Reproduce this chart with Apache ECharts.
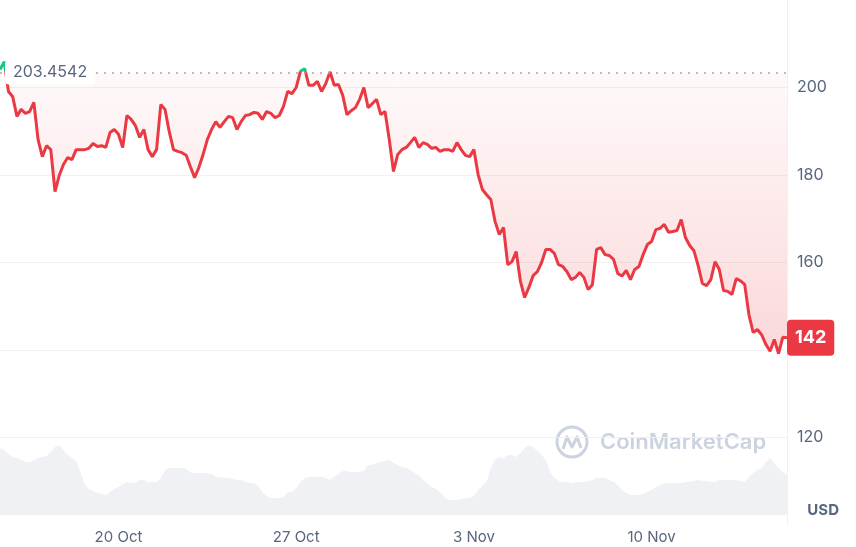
<!DOCTYPE html>
<html>
<head>
<meta charset="utf-8">
<title>Price chart</title>
<script src="https://cdn.jsdelivr.net/npm/echarts@6/dist/echarts.min.js"></script>
<style>
    html, body { margin: 0; padding: 0; background: #fff; }
    #chart { width: 856px; height: 547px; }
</style>
</head>
<body>
<div id="chart"></div>
<script>
    // 4-hourly samples, 15 Oct 08:00 -> 15 Nov 08:00
    const startTime = Date.UTC(2024, 9, 15, 8);
    const stepHours = 4;

    const priceValues = [
        204.1, 205.9, 199.1, 197.9, 193.4, 195.0, 194.1, 194.5, 196.6, 188.1,
        184.2, 186.7, 185.8, 176.2, 179.9, 182.4, 184.0, 183.5, 185.8, 185.8,
        185.8, 186.1, 187.2, 186.5, 186.7, 186.3, 189.7, 190.4, 189.3, 186.3,
        193.6, 192.7, 191.3, 188.6, 190.4, 185.8, 184.2, 185.8, 196.1, 195.0,
        189.9, 185.8, 185.4, 185.1, 184.5, 181.9, 179.4, 181.7, 184.7, 188.1,
        190.4, 192.2, 190.9, 192.2, 193.4, 193.1, 190.4, 192.2, 193.6, 193.8,
        194.3, 194.1, 192.7, 194.5, 194.1, 193.1, 193.6, 195.7, 199.1, 198.6,
        200.0, 203.7, 204.3, 200.5, 200.5, 201.4, 199.1, 200.9, 203.6, 200.5,
        200.7, 198.2, 193.8, 194.7, 195.4, 197.3, 200.0, 195.4, 196.3, 197.3,
        193.8, 194.5, 188.1, 180.8, 184.7, 185.8, 186.3, 187.4, 188.6, 186.3,
        187.4, 187.0, 186.1, 186.3, 185.4, 185.8, 185.8, 185.4, 187.4, 185.8,
        184.5, 184.2, 185.8, 180.1, 176.7, 175.5, 174.4, 169.4, 166.4, 168.0,
        159.5, 160.2, 162.5, 155.7, 152.0, 154.3, 157.0, 157.9, 160.0, 163.0,
        163.0, 162.1, 159.5, 159.1, 157.9, 156.1, 156.6, 157.7, 156.6, 153.8,
        154.9, 163.0, 163.4, 161.8, 161.6, 160.7, 157.5, 156.9, 158.2, 156.1,
        158.4, 159.1, 161.8, 164.1, 164.8, 167.5, 167.8, 168.7, 166.9, 167.1,
        167.3, 169.8, 165.7, 163.9, 162.7, 159.3, 155.2, 154.7, 156.1, 160.2,
        158.4, 153.6, 153.4, 152.7, 156.3, 155.8, 155.0, 148.1, 144.0, 144.7,
        143.5, 141.3, 139.7, 142.4, 139.2, 142.9, 142.8
    ];

    // volume, million USD
    const volumeValues = [
        670, 650, 610, 580, 570, 550, 530, 530, 550, 570,
        580, 590, 630, 680, 700, 650, 600, 570, 540, 430,
        310, 260, 240, 220, 210, 200, 230, 260, 280, 310,
        330, 320, 320, 350, 350, 330, 330, 330, 370, 450,
        470, 470, 470, 470, 460, 430, 420, 420, 420, 420,
        410, 380, 380, 370, 370, 360, 350, 350, 330, 320,
        320, 290, 230, 190, 170, 170, 170, 180, 230, 230,
        270, 330, 370, 380, 380, 380, 380, 370, 350, 380,
        410, 440, 440, 430, 430, 430, 440, 500, 500, 520,
        530, 540, 550, 520, 500, 480, 470, 450, 420, 400,
        350, 310, 280, 260, 230, 180, 150, 150, 150, 160,
        170, 170, 190, 250, 290, 330, 470, 550, 580, 570,
        600, 600, 580, 620, 670, 700, 680, 640, 600, 550,
        430, 370, 340, 330, 330, 320, 330, 330, 330, 340,
        350, 370, 370, 370, 350, 330, 300, 250, 220, 200,
        200, 200, 210, 230, 250, 280, 300, 320, 320, 320,
        320, 320, 330, 330, 340, 350, 340, 340, 330, 330,
        350, 350, 350, 350, 350, 340, 330, 380, 420, 450,
        470, 530, 570, 520, 470, 430, 400
    ];

    const baselinePrice = 203.4542;
    const xTickLabels = ['20 Oct', '27 Oct', '3 Nov', '10 Nov'];

    const months = ['Jan', 'Feb', 'Mar', 'Apr', 'May', 'Jun', 'Jul', 'Aug', 'Sep', 'Oct', 'Nov', 'Dec'];
    const categories = priceValues.map(function (v, i) {
        const d = new Date(startTime + i * stepHours * 3600 * 1000);
        const hh = String(d.getUTCHours()).padStart(2, '0');
        return d.getUTCDate() + ' ' + months[d.getUTCMonth()] + ' ' + hh + ':00';
    });
    const tickCategories = xTickLabels.map(function (t) { return t + ' 00:00'; });
    const lastPrice = priceValues[priceValues.length - 1];

    const red = '#ea3943';
    const green = '#16c784';
    const grey = '#58667e';

    let chart = echarts.init(document.getElementById('chart'));

    let option = {
        animation: false,
        textStyle: { fontFamily: 'Inter' },
        title: {
            text: 'USD',
            right: 12,
            top: 498,
            textStyle: { color: grey, fontSize: 15, fontWeight: 'bold', fontFamily: 'Inter' }
        },
        graphic: [{
            type: 'group',
            silent: true,
            children: [{
                type: 'circle',
                shape: { cx: 572, cy: 442, r: 15 },
                style: { fill: 'none', stroke: '#cbd3e1', lineWidth: 3 }
            }, {
                type: 'polyline',
                shape: { points: [[563, 449], [567, 437], [572, 447], [577, 437], [581, 448]] },
                style: { fill: 'none', stroke: '#cbd3e1', lineWidth: 3, lineJoin: 'round' }
            }, {
                type: 'text',
                style: {
                    x: 600, y: 442, text: 'CoinMarketCap', fill: '#cbd3e1',
                    font: '600 22px Inter', verticalAlign: 'middle'
                }
            }]
        }],
        visualMap: {
            show: false,
            type: 'piecewise',
            seriesIndex: 0,
            dimension: 1,
            pieces: [
                { gt: baselinePrice, lte: 220, color: green },
                { gte: 100, lte: baselinePrice, color: red }
            ]
        },
        grid: [
            { left: 0, right: 69, top: 0, bottom: 22 },
            { left: 0, right: 69, top: 440, bottom: 32 }
        ],
        xAxis: [{
            type: 'category',
            gridIndex: 0,
            data: categories,
            boundaryGap: false,
            show: false
        }, {
            type: 'category',
            gridIndex: 1,
            data: categories,
            boundaryGap: false,
            axisLine: { show: false },
            axisTick: { show: false },
            axisLabel: {
                interval: function (idx, val) { return tickCategories.indexOf(val) >= 0; },
                formatter: function (val) { return xTickLabels[tickCategories.indexOf(val)]; },
                color: grey,
                fontSize: 15,
                margin: 15
            }
        }],
        yAxis: [{
            type: 'value',
            gridIndex: 0,
            position: 'right',
            min: 100,
            max: 220,
            interval: 20,
            axisLine: { show: true, lineStyle: { color: '#eff2f5' } },
            axisTick: { show: false },
            axisLabel: {
                color: grey,
                fontSize: 16,
                margin: 10,
                showMinLabel: false,
                showMaxLabel: false
            },
            splitLine: {
                showMinLine: false,
                showMaxLine: false,
                lineStyle: { color: '#eff2f5' }
            }
        }, {
            type: 'value',
            gridIndex: 1,
            min: 0,
            max: 750,
            show: false,
            splitLine: { show: false }
        }],
        series: [{
            name: 'Price',
            type: 'line',
            xAxisIndex: 0,
            yAxisIndex: 0,
            data: priceValues,
            symbol: 'none',
            z: 3,
            lineStyle: { width: 3 },
            areaStyle: {
                origin: baselinePrice,
                color: new echarts.graphic.LinearGradient(0, 0, 0, 1, [
                    { offset: 0, color: 'rgba(234,57,67,0.03)' },
                    { offset: 1, color: 'rgba(234,57,67,0.28)' }
                ])
            },
            markLine: {
                silent: true,
                symbol: ['none', 'none'],
                data: [{
                    yAxis: baselinePrice,
                    lineStyle: { color: '#a3a9b6', type: [2, 6], width: 1.5 },
                    label: {
                        position: 'insideStart',
                        formatter: String(baselinePrice),
                        color: grey,
                        fontSize: 16,
                        backgroundColor: '#fff',
                        padding: [4, 8],
                        borderRadius: 4
                    }
                }, {
                    yAxis: lastPrice,
                    lineStyle: { color: 'rgba(0,0,0,0)', width: 0 },
                    label: {
                        show: true,
                        position: 'end',
                        distance: 0,
                        formatter: String(Math.floor(lastPrice)),
                        color: '#fff',
                        fontSize: 18,
                        fontWeight: 'bold',
                        backgroundColor: red,
                        padding: [9, 8],
                        borderRadius: 4
                    }
                }]
            }
        }, {
            name: 'Volume',
            type: 'line',
            xAxisIndex: 1,
            yAxisIndex: 1,
            data: volumeValues,
            symbol: 'none',
            z: 1,
            lineStyle: { width: 0 },
            areaStyle: { color: '#eff1f5', opacity: 1 }
        }]
    };
    chart.setOption(option);
</script>
</body>
</html>
